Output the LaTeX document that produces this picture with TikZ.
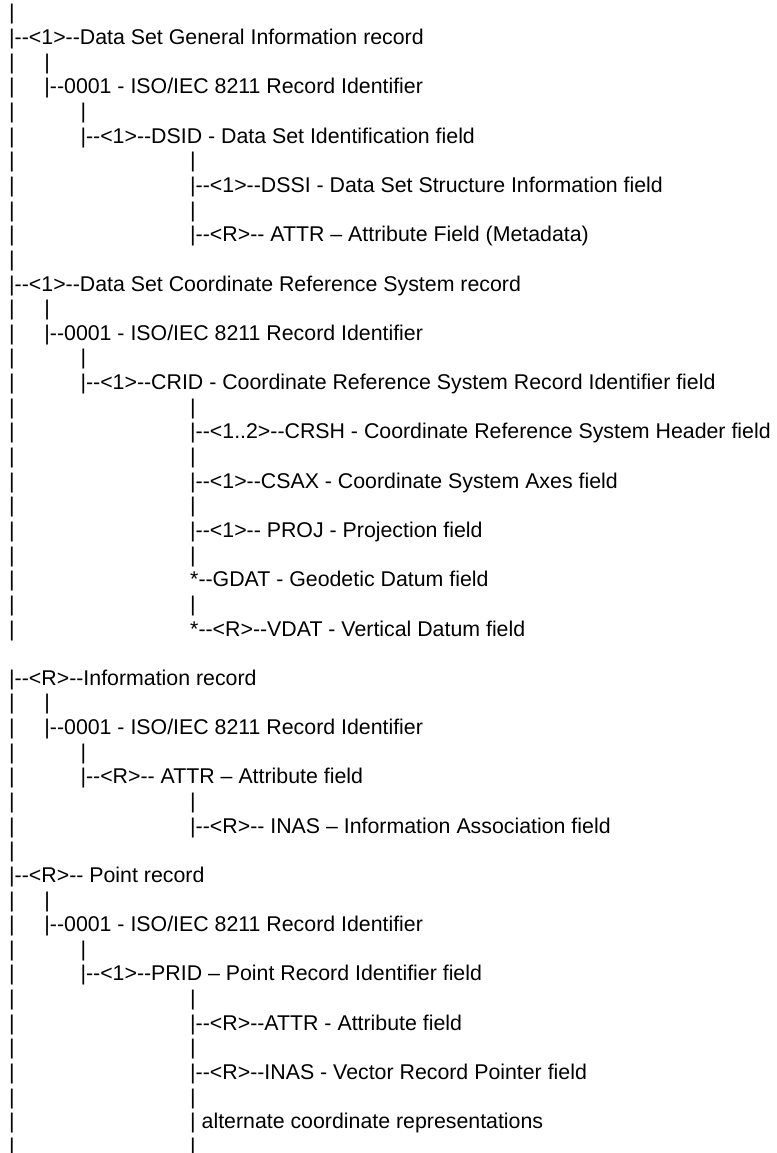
\documentclass[tikz,border=0pt]{standalone}
\usepackage{fontspec}
% plain family: no TeX ligatures, so "--" stays two hyphens
\newfontfamily\arialfont{Liberation Sans}
\newcommand\treefont{\arialfont\fontsize{21.33}{24.64}\selectfont}

% column x positions (left edge of each "|")
\def\colA{9.2}
\def\colB{44.4}
\def\colC{80.5}
\def\colD{190.2}

\tikzset{
  lbl/.style={anchor=base west, inner sep=0pt, outer sep=0pt, font=\treefont, text=black},
}
% \entry{name}{column x}{row}{text}; rows are 24.64 units apart
\newcommand\entry[4]{\node[lbl] (#1) at ({#2},{20+24.64*(#3-1)}) {#4};}

\begin{document}
\begin{tikzpicture}[x=1pt,y=-1pt]
\fill[white] (0,0) rectangle (776,1153);
\useasboundingbox (0,0) rectangle (776,1153);

% main spine
\foreach \r in {1,3,4,5,6,7,8,9,10,11,13,14,15,16,17,18,19,20,21,22,23,24,25,26,
                29,30,31,32,33,34,35,37,38,39,40,41,42,43,44,45,46,47}
  {\entry{spine\r}{\colA}{\r}{|}}

% Data Set General Information record
\entry{dsgi}{\colA}{2}{|--<1>--Data Set General Information record}
\entry{dsgiB}{\colB}{3}{|}
\entry{dsgiid}{\colB}{4}{|--0001 - ISO/IEC 8211 Record Identifier}
\entry{dsgiC}{\colC}{5}{|}
\entry{dsid}{\colC}{6}{|--<1>--DSID - Data Set Identification field}
\entry{dsidA}{\colD}{7}{|}
\entry{dssi}{\colD}{8}{|--<1>--DSSI - Data Set Structure Information field}
\entry{dsidB}{\colD}{9}{|}
\entry{dsattr}{\colD}{10}{|--<R>-- ATTR – Attribute Field (Metadata)}

% Data Set Coordinate Reference System record
\entry{dscrs}{\colA}{12}{|--<1>--Data Set Coordinate Reference System record}
\entry{dscrsB}{\colB}{13}{|}
\entry{dscrsid}{\colB}{14}{|--0001 - ISO/IEC 8211 Record Identifier}
\entry{dscrsC}{\colC}{15}{|}
\entry{crid}{\colC}{16}{|--<1>--CRID - Coordinate Reference System Record Identifier field}
\entry{cridA}{\colD}{17}{|}
\entry{crsh}{\colD}{18}{|--<1..2>--CRSH - Coordinate Reference System Header field}
\entry{cridB}{\colD}{19}{|}
\entry{csax}{\colD}{20}{|--<1>--CSAX - Coordinate System Axes field}
\entry{cridC}{\colD}{21}{|}
\entry{proj}{\colD}{22}{|--<1>-- PROJ - Projection field}
\entry{cridD}{\colD}{23}{|}
\entry{gdat}{\colD}{24}{*--GDAT - Geodetic Datum field}
\entry{cridE}{\colD}{25}{|}
\entry{vdat}{\colD}{26}{*--<R>--VDAT - Vertical Datum field}

% Information record
\entry{inf}{\colA}{28}{|--<R>--Information record}
\entry{infB}{\colB}{29}{|}
\entry{infid}{\colB}{30}{|--0001 - ISO/IEC 8211 Record Identifier}
\entry{infC}{\colC}{31}{|}
\entry{infattr}{\colC}{32}{|--<R>-- ATTR – Attribute field}
\entry{infattrA}{\colD}{33}{|}
\entry{infinas}{\colD}{34}{|--<R>-- INAS – Information Association field}

% Point record
\entry{pt}{\colA}{36}{|--<R>-- Point record}
\entry{ptB}{\colB}{37}{|}
\entry{ptid}{\colB}{38}{|--0001 - ISO/IEC 8211 Record Identifier}
\entry{ptC}{\colC}{39}{|}
\entry{prid}{\colC}{40}{|--<1>--PRID – Point Record Identifier field}
\entry{pridA}{\colD}{41}{|}
\entry{ptattr}{\colD}{42}{|--<R>--ATTR - Attribute field}
\entry{pridB}{\colD}{43}{|}
\entry{ptinas}{\colD}{44}{|--<R>--INAS - Vector Record Pointer field}
\entry{pridC}{\colD}{45}{|}
\entry{alt}{\colD}{46}{| alternate coordinate representations}
\entry{pridD}{\colD}{47}{|}
\end{tikzpicture}
\end{document}
